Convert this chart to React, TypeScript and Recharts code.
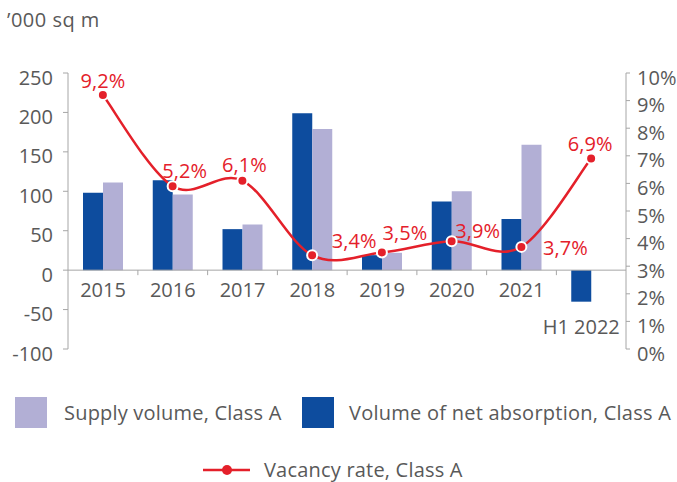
import React from "react";
import {
  ComposedChart,
  Bar,
  Line,
  XAxis,
  YAxis,
  ReferenceLine,
  LabelList,
} from "recharts";

const categories = ["2015", "2016", "2017", "2018", "2019", "2020", "2021", "H1 2022"];
const supplyVolume = [111, 96, 58, 179, 22, 100, 159, null];
const netAbsorption = [98, 114, 52, 199, 19, 87, 65, -40];
const vacancyRate = [9.2, 5.9, 6.1, 3.4, 3.5, 3.9, 3.7, 6.9];
const vacancyLabels = ["9,2%", "5,2%", "6,1%", "3,4%", "3,5%", "3,9%", "3,7%", "6,9%"];
const leftTicks = [-100, -50, 0, 50, 100, 150, 200, 250];
const rightTicks = [0, 1, 2, 3, 4, 5, 6, 7, 8, 9, 10];

// label nudges for the vacancy values (dx, dy from the point)
const labelShift: [number, number][] = [
  [0, -15], [12, -16], [2, -16], [42, -15], [23, -20], [26, -11], [44, 1], [-1, -15],
];

const W = 677;
const H = 482;
const MARGIN = { top: 73, right: 0, bottom: 133, left: 8 };
const LEFT_AXIS_W = 60;
const RIGHT_AXIS_W = 51;
const BAND = (W - MARGIN.left - MARGIN.right - LEFT_AXIS_W - RIGHT_AXIS_W) / categories.length;

const FONT = "'Open Sans', Lato, sans-serif";
const FS = 20;
const GREY = "#595959";
const RED = "#E4202A";
const BLUE = "#0D4C9E";
const LILAC = "#B2AFD5";
const AXIS = "#A6A6A6";

const data = categories.map((c, i) => ({
  category: c,
  supply: supplyVolume[i],
  absorption: netAbsorption[i],
  vacancy: vacancyRate[i],
}));

// Excel-like smoothed line (uniform Catmull-Rom as bezier segments)
const smoothCurve = (ctx: any) => {
  let pts: number[][] = [];
  return {
    areaStart() {},
    areaEnd() {},
    lineStart() {
      pts = [];
    },
    point(x: number, y: number) {
      pts.push([+x, +y]);
    },
    lineEnd() {
      if (!pts.length) return;
      ctx.moveTo(pts[0][0], pts[0][1]);
      for (let i = 0; i < pts.length - 1; i++) {
        const p0 = pts[i - 1] || pts[i];
        const p1 = pts[i];
        const p2 = pts[i + 1];
        const p3 = pts[i + 2] || p2;
        ctx.bezierCurveTo(
          p1[0] + (p2[0] - p0[0]) / 6,
          p1[1] + (p2[1] - p0[1]) / 6,
          p2[0] - (p3[0] - p1[0]) / 6,
          p2[1] - (p3[1] - p1[1]) / 6,
          p2[0],
          p2[1]
        );
      }
    },
  };
};

const LeftTick = ({ x, y, payload }: any) => (
  <text x={x} y={y + 4} textAnchor="end" dominantBaseline="central" fill={GREY} fontSize={FS} fontFamily={FONT}>
    {payload.value}
  </text>
);

const RightTick = ({ x, y, payload }: any) => (
  <text x={x} y={y + 4} textAnchor="start" dominantBaseline="central" fill={GREY} fontSize={FS} fontFamily={FONT}>
    {payload.value}%
  </text>
);

// category names sit under the zero line (or under a negative bar), with
// small separator ticks between categories like the Excel axis
const CategoryLabel = (props: any) => {
  const { x, y, width, height, index } = props;
  const neg = netAbsorption[index] < 0;
  const top = Math.min(y, y + height);
  const bottom = Math.max(y, y + height);
  const zeroY = neg ? top : bottom;
  const groupCenter = x + width;
  const cx = neg ? x + width / 2 : groupCenter;
  const sep = groupCenter - BAND / 2;
  return (
    <g>
      {index > 0 && <line x1={sep} y1={zeroY} x2={sep} y2={zeroY + 5} stroke={AXIS} strokeWidth={1} />}
      <text x={cx} y={bottom + (neg ? 25 : 19)} textAnchor="middle" dominantBaseline="central" fill={GREY} fontSize={FS} fontFamily={FONT}>
        {categories[index]}
      </text>
    </g>
  );
};

const VacancyLabel = (props: any) => {
  const { x, y, index } = props;
  const [dx, dy] = labelShift[index];
  return (
    <text x={x + dx} y={y + dy} textAnchor="middle" dominantBaseline="central" fill={RED} fontSize={FS} fontFamily={FONT}>
      {vacancyLabels[index]}
    </text>
  );
};

export default function App() {
  return (
    <div style={{ position: "absolute", left: 0, top: 0, width: W, height: H, background: "#fff", fontFamily: FONT, color: GREY }}>
      <div style={{ position: "absolute", left: 7, top: 7, fontSize: FS, lineHeight: "26px", letterSpacing: 0.5 }}>’000 sq m</div>
      <ComposedChart width={W} height={H} data={data} margin={MARGIN} barSize={20} barGap={0}>
        <XAxis dataKey="category" hide />
        <YAxis
          yAxisId="left"
          width={LEFT_AXIS_W}
          domain={[-100, 250]}
          ticks={leftTicks}
          interval={0}
          stroke={AXIS}
          tickSize={5}
          tickMargin={10}
          tick={<LeftTick />}
        />
        <YAxis
          yAxisId="right"
          orientation="right"
          width={RIGHT_AXIS_W}
          domain={[0, 10]}
          ticks={rightTicks}
          interval={0}
          stroke={AXIS}
          tickSize={4}
          tickMargin={7}
          tick={<RightTick />}
        />
        <ReferenceLine yAxisId="left" y={0} stroke={AXIS} strokeWidth={1} />
        <Bar yAxisId="left" dataKey="absorption" fill={BLUE} isAnimationActive={false}>
          <LabelList dataKey="category" content={<CategoryLabel />} />
        </Bar>
        <Bar yAxisId="left" dataKey="supply" fill={LILAC} isAnimationActive={false} />
        <Line
          yAxisId="right"
          dataKey="vacancy"
          type={smoothCurve as any}
          stroke={RED}
          strokeWidth={2.5}
          dot={{ r: 5, fill: RED, stroke: "#fff", strokeWidth: 2 }}
          isAnimationActive={false}
        >
          <LabelList dataKey="vacancy" content={<VacancyLabel />} />
        </Line>
      </ComposedChart>

      <div style={{ position: "absolute", left: 15, top: 397, width: 32, height: 31, background: LILAC }} />
      <div style={{ position: "absolute", left: 64, top: 400, fontSize: FS, lineHeight: "26px", letterSpacing: 0.2 }}>Supply volume, Class A</div>
      <div style={{ position: "absolute", left: 302, top: 397, width: 32, height: 31, background: BLUE }} />
      <div style={{ position: "absolute", left: 349, top: 400, fontSize: FS, lineHeight: "26px", letterSpacing: 0.25 }}>Volume of net absorption, Class A</div>
      <svg style={{ position: "absolute", left: 203, top: 460 }} width={48} height={20}>
        <line x1={0} y1={10} x2={47} y2={10} stroke={RED} strokeWidth={2.5} />
        <circle cx={24} cy={10} r={5} fill={RED} />
      </svg>
      <div style={{ position: "absolute", left: 264, top: 457, fontSize: FS, lineHeight: "26px", letterSpacing: 0.2 }}>Vacancy rate, Class A</div>
    </div>
  );
}
